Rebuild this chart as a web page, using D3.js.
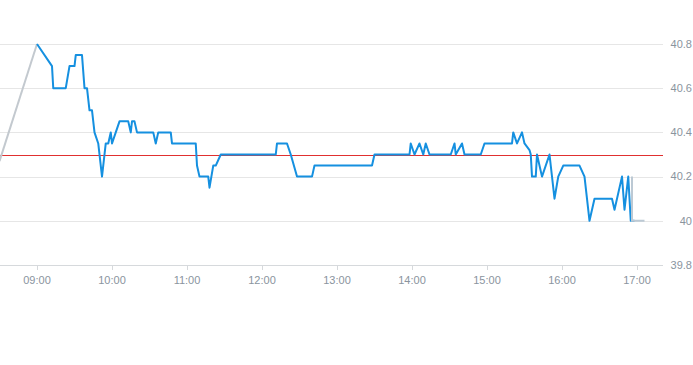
<!DOCTYPE html>
<html>
<head>
<meta charset="utf-8">
<script src="https://cdn.jsdelivr.net/npm/d3@7"></script>
<style>
  body { margin: 0; background: #fff; }
  svg { display: block; font-family: "Liberation Sans", Arial, sans-serif; }
</style>
</head>
<body>
<script>
// session prices (blue)
var times = ["09:00","09:12","09:13","09:23","09:26","09:30","09:31","09:36","09:38","09:40",
  "09:42","09:44","09:46","09:49","09:52","09:55","09:57","09:59","10:00","10:03",
  "10:06","10:13","10:15","10:16","10:18","10:20","10:33","10:35","10:37","10:47",
  "10:48","11:07","11:08","11:10","11:17","11:18","11:21","11:23","11:27","12:11",
  "12:12","12:20","12:23","12:28","12:40","12:42","13:28","13:30","13:58","13:59",
  "14:02","14:06","14:09","14:11","14:14","14:31","14:34","14:35","14:40","14:42",
  "14:55","14:58","15:20","15:21","15:24","15:28","15:30","15:34","15:35","15:36",
  "15:39","15:40","15:44","15:50","15:54","15:57","16:01","16:14","16:18","16:22",
  "16:26","16:40","16:42","16:48","16:50","16:53","16:55","16:58"];
var prices = [40.8,40.7,40.6,40.6,40.7,40.7,40.75,40.75,40.6,40.6,
  40.5,40.5,40.4,40.35,40.2,40.35,40.35,40.4,40.35,40.4,
  40.45,40.45,40.4,40.45,40.45,40.4,40.4,40.35,40.4,40.4,
  40.35,40.35,40.25,40.2,40.2,40.15,40.25,40.25,40.3,40.3,
  40.35,40.35,40.3,40.2,40.2,40.25,40.25,40.3,40.3,40.35,
  40.3,40.35,40.3,40.35,40.3,40.3,40.35,40.3,40.35,40.3,
  40.3,40.35,40.35,40.4,40.35,40.4,40.35,40.32,40.3,40.2,
  40.2,40.3,40.2,40.3,40.1,40.2,40.25,40.25,40.2,40.0,
  40.1,40.1,40.05,40.2,40.05,40.2,40.0,40.0];

// outside session (grey)
var preTimes = ["08:30","09:00"];
var prePrices = [40.27,40.8];
var postTimes = ["16:56","16:56","17:06"];
var postPrices = [40.2,40.0,40.0];

var prevClose = 40.3;
var yTicks = [39.8, 40, 40.2, 40.4, 40.6, 40.8];
var yTickLabels = ["39.8","40","40.2","40.4","40.6","40.8"];
var xTicks = ["09:00","10:00","11:00","12:00","13:00","14:00","15:00","16:00","17:00"];

var width = 693, height = 365;
var plotRight = 663;
var parse = d3.timeParse("%H:%M");

var svg = d3.select("body").append("svg")
    .attr("width", width)
    .attr("height", height);

var x = d3.scaleTime()
    .domain([parse("09:00"), parse("17:00")])
    .range([37, 637]);
var y = d3.scaleLinear()
    .domain([39.8, 40.8])
    .range([265, 44]);

// grid
svg.append("g").selectAll("line")
    .data(yTicks)
    .enter().append("line")
        .attr("x1", 0)
        .attr("x2", plotRight)
        .attr("y1", d => Math.round(y(d)) + 0.5)
        .attr("y2", d => Math.round(y(d)) + 0.5)
        .attr("stroke", (d, i) => i == 0 ? "#d6d9dc" : "#e6e6e6")
        .attr("stroke-width", 1);

svg.append("g").selectAll("text")
    .data(yTicks)
    .enter().append("text")
        .attr("x", 692)
        .attr("y", d => y(d))
        .attr("dy", "0.35em")
        .attr("text-anchor", "end")
        .attr("fill", "#8a949e")
        .style("font-size", "11px")
        .text((d, i) => yTickLabels[i]);

// x axis ticks
var xg = svg.append("g");
xg.selectAll("line")
    .data(xTicks)
    .enter().append("line")
        .attr("x1", d => Math.round(x(parse(d))) + 0.5)
        .attr("x2", d => Math.round(x(parse(d))) + 0.5)
        .attr("y1", 265)
        .attr("y2", 270)
        .attr("stroke", "#d6d9dc");
xg.selectAll("text")
    .data(xTicks)
    .enter().append("text")
        .attr("x", d => x(parse(d)))
        .attr("y", 280)
        .attr("dy", "0.35em")
        .attr("text-anchor", "middle")
        .attr("fill", "#8a949e")
        .style("font-size", "11px")
        .text(d => d);

// previous close
svg.append("rect")
    .attr("x", 0)
    .attr("width", plotRight)
    .attr("y", Math.round(y(prevClose)))
    .attr("height", 1)
    .attr("fill", "#e03030");

var line = d3.line()
    .x(d => x(parse(d[0])))
    .y(d => y(d[1]));

svg.append("path")
    .datum(d3.zip(preTimes, prePrices))
    .attr("d", line)
    .attr("fill", "none")
    .attr("stroke", "#c3c9cf")
    .attr("stroke-width", 2);

svg.append("path")
    .datum(d3.zip(times, prices))
    .attr("d", line)
    .attr("fill", "none")
    .attr("stroke", "#1590e0")
    .attr("stroke-width", 2)
    .attr("stroke-linejoin", "round");

svg.append("path")
    .datum(d3.zip(postTimes, postPrices))
    .attr("d", line)
    .attr("fill", "none")
    .attr("stroke", "#bcc9d4")
    .attr("stroke-width", 2);
</script>
</body>
</html>
